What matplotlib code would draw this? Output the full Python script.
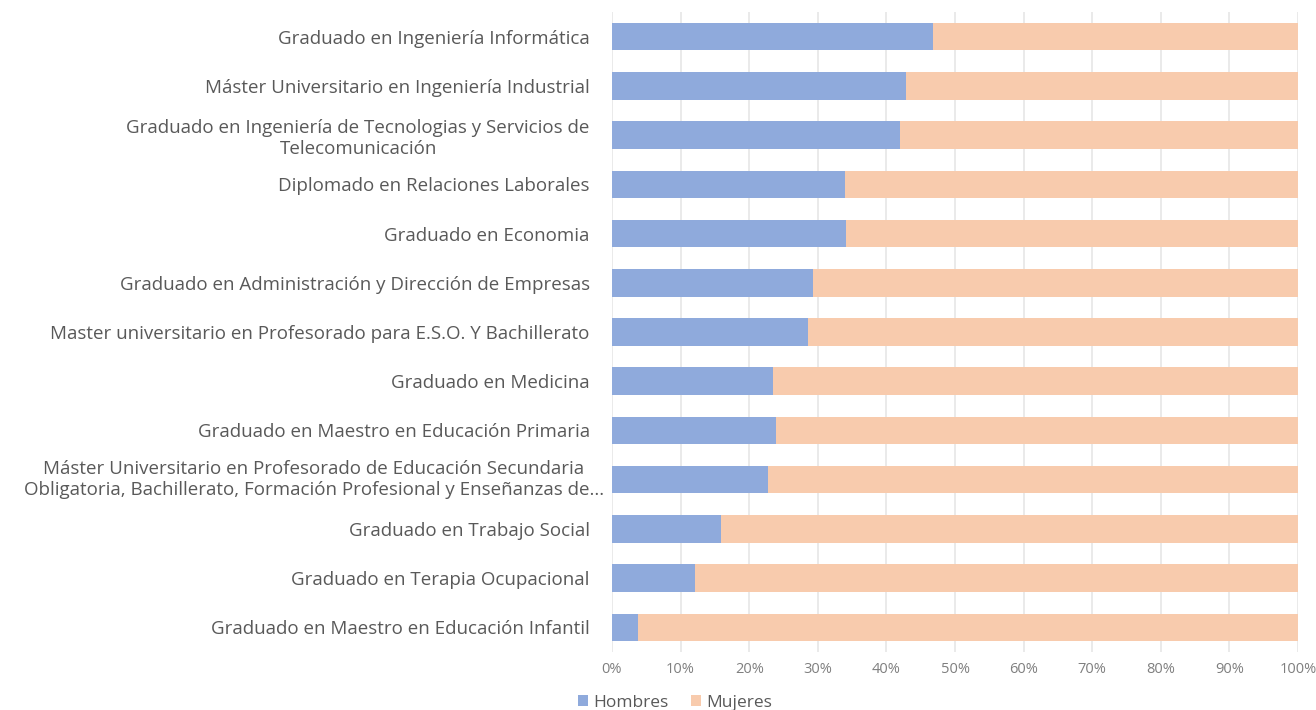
import numpy as np
import matplotlib
matplotlib.use("Agg")
import matplotlib.pyplot as plt
import matplotlib.transforms as mtransforms
from matplotlib.ticker import PercentFormatter

plt.rcParams['font.family'] = ['Open Sans', 'DejaVu Sans']

# data, top to bottom as in the chart
titulos = [
    "Graduado en Ingeniería Informática",
    "Máster Universitario en Ingeniería Industrial",
    "Graduado en Ingeniería de Tecnologias y Servicios de\nTelecomunicación",
    "Diplomado en Relaciones Laborales",
    "Graduado en Economia",
    "Graduado en Administración y Dirección de Empresas",
    "Master universitario en Profesorado para E.S.O. Y Bachillerato",
    "Graduado en Medicina",
    "Graduado en Maestro en Educación Primaria",
    "Máster Universitario en Profesorado de Educación Secundaria\nObligatoria, Bachillerato, Formación Profesional y Enseñanzas de...",
    "Graduado en Trabajo Social",
    "Graduado en Terapia Ocupacional",
    "Graduado en Maestro en Educación Infantil",
]
hombres = [46.8, 42.9, 42.0, 34.0, 34.1, 29.3, 28.6, 23.5, 23.9, 22.7, 15.9, 12.1, 3.8]
mujeres = [100 - h for h in hombres]

fig = plt.figure(figsize=(13.16, 7.10), dpi=100)
ax = fig.add_axes([612/1316, 1 - 652/710, 686/1316, 640/710])

y = np.arange(len(titulos))
ax.barh(y, hombres, height=0.56, color='#8FAADC', label='Hombres', zorder=3)
ax.barh(y, mujeres, left=hombres, height=0.56, color='#F8CBAD', label='Mujeres', zorder=3)

ax.set_xlim(0, 100)
ax.set_ylim(len(titulos) - 0.5, -0.5)
ax.set_yticks(y)
# the long truncated label is centred a bit further right, drawn separately
largo = 9
ax.set_yticklabels([t if i != largo else '' for i, t in enumerate(titulos)],
                   fontsize=13.5, color='#595959')
trans = mtransforms.blended_transform_factory(ax.transAxes, ax.transData)
ax.text(-0.435, y[largo], titulos[largo], transform=trans, ha='center', va='center',
        multialignment='center', fontsize=13.5, color='#595959')
ax.set_xticks(np.arange(0, 101, 10))
ax.xaxis.set_major_formatter(PercentFormatter(decimals=0))
ax.tick_params(axis='x', labelsize=10.5, colors='#7f7f7f', length=0, pad=7)
ax.tick_params(axis='y', length=0, pad=16)
for lab in ax.get_yticklabels():
    lab.set_multialignment('center')
ax.grid(axis='x', color='#e6e6e6', linewidth=1.2, zorder=0)
for s in ax.spines.values():
    s.set_visible(False)

leg = fig.legend(loc='center', bbox_to_anchor=(675/1316, 1 - 703/710), ncol=2,
                 frameon=False, fontsize=12.5, handlelength=0.6, handleheight=0.6,
                 handletextpad=0.3, columnspacing=1.3)
for t in leg.get_texts():
    t.set_color('#595959')

fig.savefig('out.png', dpi=100)
